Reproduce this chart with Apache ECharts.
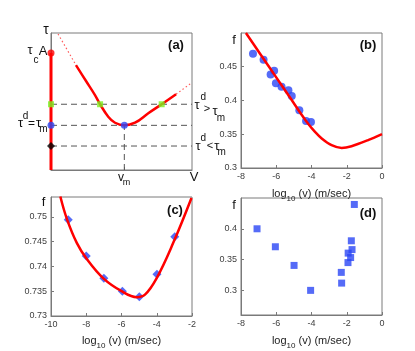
<!DOCTYPE html>
<html>
<head>
<meta charset="utf-8">
<script src="https://cdn.jsdelivr.net/npm/echarts@6/dist/echarts.min.js"></script>
<style>
  html, body { margin: 0; padding: 0; background: #fff; }
  #chart { width: 415px; height: 351px; }
</style>
</head>
<body>
<div id="chart"></div>
<script>
// panel (a): schematic tau vs v, units 0..100 on both axes
var aCurve = [[17.7, 76.6], [24.5, 65.5], [31.2, 54.7], [34.8, 48.0], [40.6, 38.9], [45.4, 34.5],
    [52.0, 32.6], [59.6, 34.5], [69.0, 41.4], [78.5, 48.0], [88.7, 55.3]]
var aDotLeft = [[5.0, 99.3], [17.7, 76.6]]
var aDotRight = [[88.7, 55.3], [99.8, 63.7]]
var aTauC = 85.4 // tau_c A
var aTauHigh = 48.0 // tau^d > tau_m
var aTauM = 32.6 // tau^d = tau_m
var aTauLow = 17.5 // tau^d < tau_m
var aVm = 52.0
var aGreen = [[0, 48.0], [34.8, 48.0], [78.5, 48.0]]

// panel (b)
var bDots = [[-7.32, 0.4694], [-6.72, 0.4604], [-6.32, 0.4386], [-6.12, 0.444], [-6.02, 0.4257],
    [-5.70, 0.4202], [-5.31, 0.4152], [-5.12, 0.4068], [-4.69, 0.3855], [-4.31, 0.3696], [-4.03, 0.3681]]
var bFit = [[-7.72, 0.5], [-6.9, 0.4686], [-6.0, 0.4342], [-5.2, 0.4036], [-4.55, 0.3785], [-4.18, 0.3652],
    [-3.8, 0.3535], [-3.42, 0.3438], [-2.86, 0.3338], [-2.29, 0.3298], [-1.73, 0.3323], [-0.79, 0.3413], [0, 0.3502]]
var bTicksY = [0.3, 0.35, 0.4, 0.45]

// panel (c)
var cDots = [[-9.02, 0.7494], [-8.0, 0.7421], [-7.0, 0.7376], [-5.95, 0.735], [-4.99, 0.7339], [-3.99, 0.7384], [-2.98, 0.746]]
var cFit = [[-9.47, 0.7541], [-9.10, 0.7496], [-8.53, 0.7447], [-7.97, 0.7415], [-7.03, 0.7376], [-5.99, 0.735],
    [-5.14, 0.7338], [-4.67, 0.7343], [-4.01, 0.7376], [-3.07, 0.7447], [-2.03, 0.7538]]
var cTicksY = [0.73, 0.735, 0.74, 0.745, 0.75]

// panel (d)
var dDots = [[-7.09, 0.40], [-6.05, 0.3708], [-4.99, 0.3405], [-4.05, 0.300], [-2.31, 0.3292], [-2.29, 0.3118],
    [-1.93, 0.3451], [-1.92, 0.3605], [-1.78, 0.3533], [-1.74, 0.3805], [-1.70, 0.3662], [-1.57, 0.4395]]
var dTicksY = [0.3, 0.35, 0.4]

var font = 'Liberation Sans, Arial, sans-serif'
var frame = '#7a7a7a'
var red = '#ff0000'
var blue = '#2a46f5'
var green = '#7cf020'

function valAxis(gi, min, max, ticks, showTick, showLabel) {
    return {
        type: 'value', gridIndex: gi, min: min, max: max,
        axisLine: { show: true, onZero: false, lineStyle: { color: frame, width: 1 } },
        axisTick: { show: showTick, inside: true, length: 3, customValues: ticks, lineStyle: { color: frame } },
        axisLabel: { show: showLabel, customValues: ticks, fontSize: 9, color: '#404040', fontFamily: font, margin: 4 },
        splitLine: { show: false }
    }
}

var logName = '{a|log}{s|10}{a| (v) (m/sec)}'
var logRich = {
    a: { fontSize: 11, fontFamily: font, color: '#222', lineHeight: 14 },
    s: { fontSize: 8, fontFamily: font, color: '#222', lineHeight: 18, verticalAlign: 'bottom' }
}

function txt(x, y, s, size, extra) {
    var st = { text: s, font: (extra || '') + ' ' + size + 'px ' + font, fill: '#111', align: 'center', verticalAlign: 'middle' }
    return { type: 'text', x: x, y: y, style: st, z: 100 }
}

function dashed(data) {
    return { type: 'line', xAxisIndex: 0, yAxisIndex: 0, data: data, symbol: 'none', clip: false,
        lineStyle: { color: '#555', width: 1, type: [6, 4] }, z: 1 }
}

var option = {
    animation: false,
    grid: [
        { left: 51, top: 33, width: 141, height: 137, show: true, borderColor: frame, borderWidth: 1 },
        { left: 241, top: 33, width: 141, height: 135, show: true, borderColor: frame, borderWidth: 1 },
        { left: 51, top: 197, width: 141, height: 124, show: true, borderColor: frame, borderWidth: 1 },
        { left: 241, top: 198, width: 141, height: 125, show: true, borderColor: frame, borderWidth: 1 }
    ],
    xAxis: [
        valAxis(0, 0, 100, [aVm], true, false),
        Object.assign(valAxis(1, -8, 0, [-8, -6, -4, -2, 0], true, true), { name: logName, nameLocation: 'middle', nameGap: 17, nameTextStyle: { rich: logRich } }),
        Object.assign(valAxis(2, -10, -2, [-10, -8, -6, -4, -2], true, true), { name: logName, nameLocation: 'middle', nameGap: 16, nameTextStyle: { rich: logRich } }),
        Object.assign(valAxis(3, -8, 0, [-8, -6, -4, -2, 0], true, true), { name: logName, nameLocation: 'middle', nameGap: 17, nameTextStyle: { rich: logRich } })
    ],
    yAxis: [
        valAxis(0, 0, 100, [], false, false),
        valAxis(1, 0.3, 0.5, bTicksY, true, true),
        valAxis(2, 0.73, 0.754, cTicksY, true, true),
        valAxis(3, 0.26, 0.45, dTicksY, true, true)
    ],
    series: [
        // panel (a)
        dashed([[0, aTauHigh], [100, aTauHigh]]),
        dashed([[0, aTauM], [100, aTauM]]),
        dashed([[0, aTauLow], [100, aTauLow]]),
        dashed([[aVm, 0], [aVm, aTauM]]),
        { type: 'line', xAxisIndex: 0, yAxisIndex: 0, data: [[0, aTauC], [0, 0]], symbol: 'none', clip: false,
            lineStyle: { color: red, width: 3 }, z: 3 },
        { type: 'line', xAxisIndex: 0, yAxisIndex: 0, data: aDotLeft, symbol: 'none',
            lineStyle: { color: '#ff5a5a', width: 1.2, type: [1.5, 2.5] } },
        { type: 'line', xAxisIndex: 0, yAxisIndex: 0, data: aDotRight, symbol: 'none',
            lineStyle: { color: '#ff5a5a', width: 1.2, type: [1.5, 2.5] } },
        { type: 'line', xAxisIndex: 0, yAxisIndex: 0, data: aCurve, symbol: 'none', smooth: 0.4,
            lineStyle: { color: red, width: 2.5 }, z: 3 },
        { type: 'scatter', xAxisIndex: 0, yAxisIndex: 0, data: [[0, aTauC]], symbol: 'circle', symbolSize: 7,
            itemStyle: { color: red }, clip: false, z: 5 },
        { type: 'scatter', xAxisIndex: 0, yAxisIndex: 0, data: aGreen, symbol: 'rect', symbolSize: 6,
            itemStyle: { color: green }, clip: false, z: 5 },
        { type: 'scatter', xAxisIndex: 0, yAxisIndex: 0, data: [[0, aTauM], [aVm, aTauM]], symbol: 'circle', symbolSize: 7,
            itemStyle: { color: blue }, clip: false, z: 5 },
        { type: 'scatter', xAxisIndex: 0, yAxisIndex: 0, data: [[0, aTauLow]], symbol: 'diamond', symbolSize: 8,
            itemStyle: { color: '#000' }, clip: false, z: 5 },
        // panel (b)
        { type: 'scatter', xAxisIndex: 1, yAxisIndex: 1, data: bDots, symbol: 'circle', symbolSize: 8,
            itemStyle: { color: blue } },
        { type: 'line', xAxisIndex: 1, yAxisIndex: 1, data: bFit, symbol: 'none', smooth: 0.3,
            lineStyle: { color: red, width: 2.5 }, z: 3 },
        // panel (c)
        { type: 'scatter', xAxisIndex: 2, yAxisIndex: 2, data: cDots, symbol: 'diamond', symbolSize: 9,
            itemStyle: { color: blue } },
        { type: 'line', xAxisIndex: 2, yAxisIndex: 2, data: cFit, symbol: 'none', smooth: 0.4,
            lineStyle: { color: red, width: 2.5 }, z: 3 },
        // panel (d)
        { type: 'scatter', xAxisIndex: 3, yAxisIndex: 3, data: dDots, symbol: 'rect', symbolSize: 7,
            itemStyle: { color: blue } }
    ],
    graphic: [
        txt(46, 30, 'τ', 14),
        txt(30, 50, 'τ', 13), txt(36, 60, 'c', 10), txt(43, 51, 'A', 13),
        txt(20.5, 123, 'τ', 13), txt(25.5, 116, 'd', 10), txt(31.5, 124, '=', 12), txt(38.5, 123, 'τ', 13), txt(43.5, 129, 'm', 10),
        txt(197, 105, 'τ', 13), txt(203.3, 97, 'd', 10), txt(207, 108.5, '>', 11), txt(215, 111, 'τ', 13), txt(221, 118, 'm', 10),
        txt(198, 146, 'τ', 13), txt(203.3, 138, 'd', 10), txt(210, 146, '<', 11), txt(216.7, 146.7, 'τ', 13), txt(221.7, 152, 'm', 10),
        txt(121, 178, 'v', 12), txt(126.5, 183, 'm', 9), txt(194, 177, 'V', 13),
        txt(176, 45, '(a)', 13, 'bold'), txt(368, 45, '(b)', 13, 'bold'),
        txt(175, 210, '(c)', 13, 'bold'), txt(368, 213, '(d)', 13, 'bold'),
        txt(234, 40, 'f', 13), txt(43.5, 202, 'f', 13), txt(234, 205, 'f', 13)
    ]
}

var chart = echarts.init(document.getElementById('chart'))
chart.setOption(option)
</script>
</body>
</html>
